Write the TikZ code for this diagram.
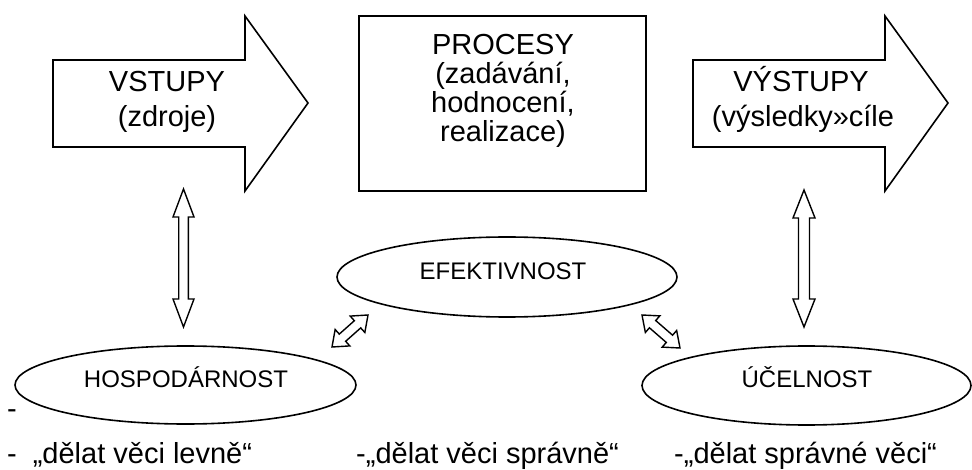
\documentclass[tikz,border=0pt]{standalone}
\usepackage{fontspec}
\setmainfont{Liberation Sans}
\usetikzlibrary{calc,shapes.geometric}
\tikzset{
  outl/.style={draw=black, line width=1.6pt, line join=miter},
  bigtext/.style={font=\fontsize{29}{29}\selectfont, inner sep=0pt, anchor=base},
  lowtext/.style={font=\fontsize{29}{29}\selectfont, inner sep=0pt, anchor=base west},
  ovaltext/.style={font=\fontsize{24}{24}\selectfont, inner sep=0pt, anchor=base},
  oval/.style={ellipse, draw=black, line width=1.6pt, inner sep=0pt},
  hollow/.style={draw=black, line width=1.4pt, fill=white, line join=miter},
}
% hollow double arrow: from, to, head length, head half width, shaft half width
\newcommand{\dblarrow}[5]{%
  \coordinate (h1) at ($(#1)!#3!(#2)$);
  \coordinate (h2) at ($(#2)!#3!(#1)$);
  \draw[hollow] (#1) -- ($(h1)!#4!-90:(#1)$) -- ($(h1)!#5!-90:(#1)$)
    -- ($(h2)!#5!90:(#2)$) -- ($(h2)!#4!90:(#2)$) -- (#2)
    -- ($(h2)!#4!-90:(#2)$) -- ($(h2)!#5!-90:(#2)$)
    -- ($(h1)!#5!90:(#1)$) -- ($(h1)!#4!90:(#1)$) -- cycle;
}
\begin{document}
\begin{tikzpicture}[x=1pt,y=-1pt]
\useasboundingbox (0,0) rectangle (972,470);

% VSTUPY arrow
\draw[outl] (53,60) -- (245,60) -- (245,16) -- (308,103) -- (245,191) -- (245,147) -- (53,147) -- cycle;
\node[bigtext] (vst1) at (167,92) {VSTUPY};
\node[bigtext] (vst2) at (167,127) {(zdroje)};

% PROCESY box
\draw[outl] (359,16) rectangle (646,191);
\node[bigtext] (pr1) at (503,55) {PROCESY};
\node[bigtext] (pr2) at (503,84) {(zadávání,};
\node[bigtext] (pr3) at (503,113) {hodnocení,};
\node[bigtext] (pr4) at (503,142) {realizace)};

% VYSTUPY arrow
\draw[outl] (693,60) -- (885,60) -- (885,16) -- (948,103) -- (885,191) -- (885,147) -- (693,147) -- cycle;
\node[bigtext] (vy1) at (801,92) {VÝSTUPY};
\node[bigtext] (vy2) at (803,127) {(výsledky»cíle};

% ellipses
\node[oval, minimum width=340pt, minimum height=80pt] (efe) at (507,277) {};
\node[ovaltext] (efet) at (503,280) {EFEKTIVNOST};
\node[oval, minimum width=341pt, minimum height=78pt] (hos) at (185.5,385) {};
\node[ovaltext] (host) at (186,387) {HOSPODÁRNOST};
\node[oval, minimum width=329pt, minimum height=79pt] (uce) at (806.5,385.5) {};
\node[ovaltext] (ucet) at (807,387) {ÚČELNOST};

% double arrows
\coordinate (a1) at (183.5,189);
\coordinate (a2) at (183.5,327);
\dblarrow{a1}{a2}{28pt}{10.5pt}{4.8pt}
\coordinate (b1) at (804,190);
\coordinate (b2) at (804,327);
\dblarrow{b1}{b2}{28pt}{11pt}{5.5pt}
\coordinate (c1) at (332,347);
\coordinate (c2) at (368,315);
\dblarrow{c1}{c2}{14pt}{11pt}{4.8pt}
\coordinate (d1) at (642,315);
\coordinate (d2) at (680,348);
\dblarrow{d1}{d2}{14pt}{11pt}{4.8pt}

% bottom texts
\node[lowtext] (dash) at (7,418) {-};
\node[lowtext] (t1) at (7,463) {-\hspace{16pt}„dělat věci levně“};
\node[lowtext] (t2) at (356,463) {-„dělat věci správně“};
\node[lowtext] (t3) at (674,463) {-„dělat správné věci“};
\end{tikzpicture}
\end{document}
